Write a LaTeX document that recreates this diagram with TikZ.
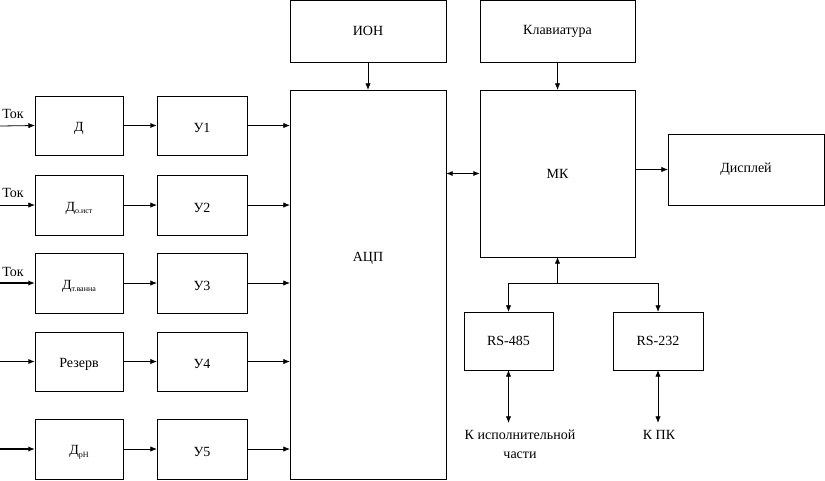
\documentclass[tikz,border=0pt]{standalone}
\usepackage{fontspec}
\setmainfont{Liberation Serif}
\usetikzlibrary{arrows.meta}
\tikzset{
  box/.style={draw, line width=0.6pt, inner sep=0pt, outer sep=0pt, font=\fontsize{10.5}{12}\selectfont},
  lbl/.style={inner sep=0pt, font=\fontsize{10.5}{12}\selectfont},
  arr/.style={line width=0.6pt, -{Latex[length=5pt,width=4pt]}},
  thickarr/.style={line width=1.1pt, -{Latex[length=5pt,width=4pt]}},
  darr/.style={line width=0.6pt, {Latex[length=5pt,width=4pt]}-{Latex[length=5pt,width=4pt]}},
  thickdarr/.style={line width=1.1pt, {Latex[length=5pt,width=4pt]}-{Latex[length=5pt,width=4pt]}},
}
\newcommand\bx[6]{\node[box, minimum width={(#4-#2)*0.75pt}, minimum height={(#5-#3)*0.75pt}] (#1) at ({(#2+#4)/2},{(#3+#5)/2}) {#6};}
\newcommand\bxl[6]{\node[box, minimum width={(#4-#2)*0.75pt}, minimum height={(#5-#3)*0.75pt}, label={[lbl,yshift=-2.2pt]center:#6}] (#1) at ({(#2+#4)/2},{(#3+#5)/2}) {};}
\newcommand\sbs[1]{\raisebox{-2pt}{\fontsize{6}{7}\selectfont #1}}
\begin{document}
\begin{tikzpicture}[x=0.75pt,y=-0.75pt]
\useasboundingbox (0,0) rectangle (825,480);
% left sensors
\bxl{d1}{35}{96}{123}{155}{Д}
\bxl{d2}{35}{175}{123}{235}{\raisebox{-2pt}{Д\sbs{о.ист}}}
\bxl{d3}{35}{253}{123}{313}{\raisebox{-2pt}{Д\sbs{т.ванна}}}
\bxl{d4}{35}{332}{123}{391}{Резерв}
\bxl{d5}{35}{419}{123}{479}{\raisebox{-2pt}{Д\sbs{pH}}}
% amplifiers
\bxl{u1}{157}{96}{247}{155}{У1}
\bxl{u2}{157}{175}{247}{235}{У2}
\bxl{u3}{157}{253}{247}{313}{У3}
\bxl{u4}{157}{332}{247}{391}{У4}
\bxl{u5}{157}{419}{247}{479}{У5}
% main blocks
\bx{adc}{290}{90}{446}{479}{}
\node[lbl] (adctxt) at (368,258) {АЦП};
\bx{ion}{290}{0.5}{446}{62}{ИОН}
\bx{kb}{480}{0.5}{635}{62}{Клавиатура}
\bx{mk}{480}{90}{635}{257}{МК}
\bx{dsp}{668}{134}{824}{205}{Дисплей}
\bx{rs485}{464}{312}{553}{370}{RS-485}
\bx{rs232}{613}{312}{703}{370}{RS-232}
% inputs
\coordinate (in1) at (0,126);
\coordinate (in2) at (0,205);
\coordinate (in3) at (0,283);
\coordinate (in4) at (0,361.5);
\coordinate (in5) at (0,449);
\node[lbl, anchor=west] (tok1) at (2,114) {Ток};
\node[lbl, anchor=west] (tok2) at (2,193) {Ток};
\node[lbl, anchor=west] (tok3) at (2,272) {Ток};
\draw[arr] (in1) -- (d1.west);
\draw[arr] (in2) -- (d2.west);
\draw[thickarr] (in3) -- (d3.west);
\draw[thickarr] (in4) -- (d4.west);
\draw[thickarr] (in5) -- (d5.west);
% sensors to amplifiers
\draw[thickarr] (d1.east) -- (u1.west);
\draw[arr] (d2.east) -- (u2.west);
\draw[arr] (d3.east) -- (u3.west);
\draw[arr] (d4.east) -- (u4.west);
\draw[arr] (d5.east) -- (u5.west);
% amplifiers to ADC
\draw[arr] (u1.east) -- (u1.east -| adc.west);
\draw[arr] (u2.east) -- (u2.east -| adc.west);
\draw[arr] (u3.east) -- (u3.east -| adc.west);
\draw[arr] (u4.east) -- (u4.east -| adc.west);
\draw[arr] (u5.east) -- (u5.east -| adc.west);
% top
\draw[arr] (ion.south) -- (ion.south |- adc.north);
\draw[arr] (kb.south) -- (kb.south |- mk.north);
\draw[thickdarr] (adc.east |- mk.west) -- (mk.west);
\draw[arr] (mk.east |- dsp.west) -- (dsp.west);
% bus
\coordinate (bus) at (557.5,283);
\coordinate (bl) at (508.5,283);
\coordinate (br) at (658,283);
\draw[arr] (bus) -- (mk.south);
\draw[line width=0.6pt] (bl) -- (br);
\draw[arr] (bl) -- (rs485.north);
\draw[arr] (br) -- (rs232.north);
% external
\coordinate (ext1) at (508.5,423);
\coordinate (ext2) at (658,423);
\draw[darr] (rs485.south) -- (ext1);
\draw[darr] (rs232.south) -- (ext2);
\node[lbl, align=center, anchor=north] (exttxt1) at (520,430) {К исполнительной\\[2pt]части};
\node[lbl, anchor=north] (exttxt2) at (659,430) {К ПК};
\end{tikzpicture}
\end{document}
